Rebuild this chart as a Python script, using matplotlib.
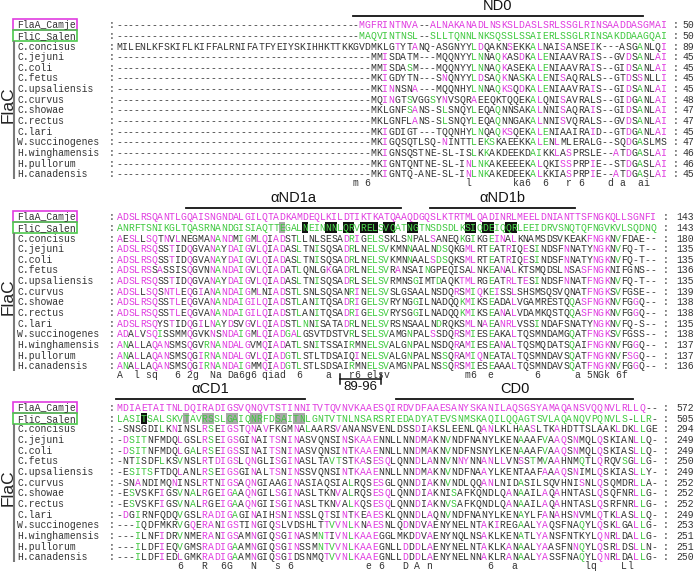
import matplotlib
matplotlib.use("Agg")
import matplotlib.pyplot as plt
from matplotlib.patches import Rectangle

# ---------------- data ----------------
names = ["FlaA_Camje", "FliC_Salen", "C.concisus", "C.jejuni", "C.coli", "C.fetus",
         "C.upsaliensis", "C.curvus", "C.showae", "C.rectus", "C.lari",
         "W.succinogenes", "H.winghamensis", "H.pullorum", "H.canadensis"]

block1_seqs = [
    "MGFRINTNVA--ALNAKANADLNSKSLDASLSRLSSGLRINSAADDASGMAI",
    "MAQVINTNSL--SLLTQNNLNKSQSSLSSAIERLSSGLRINSAKDDAAGQAI",
    "MILENLKFSKIFLKIFFALRNIFATFYEIYSKIHHKTTKKGVDMKLGTYTANQ-ASGNYYLDQAKNSEKKALNAISANSEIK---ASGANLQI",
    "MMISDATM---MQQNYYLNNAQKASDKALENIAAVRAIS--GVDSANLAI",
    "MMISDASM---MQQNYYLNNAQKASEKALENIAAVRAIS--GIDSANLAI",
    "MKIGDYTN---SNQNYYLDSAQKNASKALENISAQRALS--GTDSSNLLI",
    "MKINNSNA---MQQNHYLNNAQKSQDKALENIAAVRAIS--GIDSANLAI",
    "MQINGTSVGGSYNVSQRAEEQKTQQEKALQNISAVRALS--GIDGANLAI",
    "MKLGNFSANS-SLSNQYLEQAQNNSAKALNNISAQRAIS--GIDSANLAI",
    "MKLGNFLANS-SLSNQYLEQAQNNGAKALNNISVQRALS--GVDSANLAI",
    "MKIGDIGT---TQQNHYLNQAQKSQEKALENIAAIRAID--GTDGANLAI",
    "MKIGQSQTLSQ-NINTTLEKSKAEEKKALENLMLERALG--SQDGASLMS",
    "MKIGNSQSTNE-SL-ISLKKAKDEEKDAIKKLASPRSLE--ATDGASLAI",
    "MKIGNTQNTNE-SL-INLNKAKEEEEKALQKISSPRPIE--STDGASLAI",
    "MKIGNTQ-ANE-SL-INLNKAKEDEEKALKKIASPRPIE--ATDGASLAI",
]
block1_ends = [50, 50, 89, 45, 45, 45, 45, 48, 47, 47, 45, 47, 46, 46, 45]

block2_seqs = [
    "ADSLRSQANTLGQAISNGNDALGILQTADKAMDEQLKILDTIKTKATQAAQDGQSLKTRTMLQADINRLMEELDNIANTTSFNGKQLLSGNFI",
    "ANRFTSNIKGLTQASRNANDGISIAQTTEGALNEINNNLQRVRELSVQATNGTNSDSDLKSIQDEIQQRLEEIDRVSNQTQFNGVKVLSQDNQ",
    "AESLLSQTNVLNEGMANANDMIGMLQIADSTLLNLSESADRIGELSSKLSNPALSANEQKGIKGEINALKNAMSDSVKEAKFNGKNVFDAE--",
    "ADSLRSQSSTIDQGVANAYDAIGVLQIADASLTNISQSADRLNELSVKMNNAALNDSQKGMLRTEATRIQESINDSFNNATYNGKNVFQ-T--",
    "ADSLRSQSSTIDQGVANAYDAIGVLQIADASLTNISQSADRLNELSVKMNNAALSDSQKSMLRTEATRIQESINDSFNNATYNGKNVFQ-T--",
    "ADSLRSSASSISQGVNNANDAIGVLQIADATLQNLGKGADRLNELSVRANSAINGPEQISALNKEANALKTSMQDSLNSASFNGKNIFGNS--",
    "ADSLRSQSSTIDQGVANAYDAIGVLQIADASLTNISQSADRLSELSVRMNSGIMTDAQKTMLRGEATRLTESINDSFNNATFNGKNVFQ-T--",
    "ADSLLSQSNTLEQGIANANDAIGMLNIADSTLSNLSQSANRINELSVSLGSAALNSDQRSMIQKEISSLSHSMSQSVQNATFNGKSVFGSE--",
    "ADSLRSQSSTLEQGVANANDAIGILQIADSTLANITQSADRIGELSVRYNGGILNADQQKMIKSEADALVGAMRESTQQASFNGKNVFGGQ--",
    "ADSLRSQSSTLEQGVANANDAIGILQIADSTLANITQSADRIGELSVRYSGGILNADQQKMIKSEANALVDAMKQSTQQASFNGKNVFGGQ--",
    "ADSLRSQYSTIDQGILNAYDSVGVLQIADSTLNNISATADRLNELSVRSNSAALNDRQKSMLNAEANRLVSSINDAFSNATYNGKNVFQ-S--",
    "ADALVSQISSMMQGVKNSNDAIGMLQIADGALGSVTDSTVRLSELSVAMGNPALSSDQRSMIESEAKALTQSMNDAMGQATFNGKSVFGSS--",
    "ANALLAQANSMSQGVRNANDALGVMQIADATLSNITSSAIRMNELSVALGNPALNSDQRAMIESEANALTQSMQDATSQAIFNGKNVFGGQ--",
    "ANALLAQANSMSQGIRNANDALGVLQIADGTLSTLTDSAIQINELSVALGNPALNSSQRAMIQNEATALTQSMNDAVSQATFNGKNVFSGQ--",
    "ANALLAQANSMSQGIRNANDAIGMMQIADGTLSTLSDSAIRMNELSVAMGNPALNSSQRSMIESEAAALTQSMNDAVSQATFNGKNVFGGQ--",
]
block2_ends = [143, 143, 180, 135, 135, 136, 135, 139, 138, 138, 135, 138, 137, 137, 136]

block3_seqs = [
    "MDIAETAITNLDQIRADIGSVQNQVTSTINNITVTQVNVKAAESQIRDVDFAAESANYSKANILAQSGSYAMAQANSVQQNVLRLLQ--",
    "LASITSALSKVTAVRSSLGAIQNRFDSAITNLGNTVTNLNSARSRIEDADYATEVSNMSKAQILQQAGTSVLAQANQVPQNVLS-LLR-",
    "-SNSGDILKNINSLRSEIGSTQNAVFKGMNALAARSVANANSVENLDSSDIAKSLEENLQANLKLHAASLTKAHDTTSLAAKLDKLLGE",
    "-DSITNFMDQLGSLRSEIGSGINAITSNINASVQNSINSKAAENNLLNNDMAKNVNDFNANYLKENAAAFVAAQSNMQLQSKIANLLQ-",
    "-DSITNFMDQLGALRSEIGSSINAITSNINASVQNSINTKAAENNLLNNDMAKNVNDFNSNYLKENAAAFVAAQSNMQLQSKIASLLQ-",
    "-NTISDFLKSVNSLRTDIGSLQNGLISGINASLTAVTSTKASESQLQNNDLANNVNNYNNANLLVNSSTMVAAHNMQTLQRQVSGLLG-",
    "-ESITSFTDQLANLRSEIGSGINALTSNINSSVQNSINTKAAENNLLNNDMAKNVNDFNAAYLKENTAAFAAAQSNIMLQSKIASLLY-",
    "-SNANDIMQNINSLRTNIGSAQNGIAAGINASIAQSIALRQSESGLQNNDIAKNVNDLQQANLNIDASILSQVHNISNLQSQMDRLLA-",
    "-ESVSKFIGSVNALRGEIGAAQNGILSGINASLTKNVALRQSESQLQNNDIAKNISAFKQNDLQANAAILAQAHNTASLQSQFNRLLG-",
    "-ESVSKFIGSVNALRGEIGAAQNGIISGINASLTKNVALKQSESQLQNNDIAKNVSAFKQNDLQANAAILAQAHNTASLQSRFNRLLG-",
    "-DGIRNFQDQVGSLRADIGAGINAIHSNINSSLQTSINTKEAESKLQNNDLAQNVNDFNANYLKENAYLFANAHSNVMLQTKLASLLQ-",
    "---IQDFMKRVGQERANIGSTINGIQSLVDSHLTTVVNLKNAESNLQDNDVAENYNELNTAKIREGAALYAQSFNAQYLQSKLGALLG-",
    "---ILNFIDRVNMERANIGSAMNGIQSGINASMNTIVNLKAAEGGLMKDDVAENYNQLNSAKLKENATLYANSFNTKYLQNRLDALLG-",
    "---ILDFIEQVGMSRADIGAAMNGIQSGINSSMNTVVNLKAAEGNLLDDDLAENYNELNTAKLKANAALYAASFNNQYLQSRLDSLLN-",
    "---ILDFIEDLGMKRADIGAAMNGIQSGIDSNMQTVVNLKAAEGNLLDDDLAENYNELNNAKLRANAALYASSFNAQYLQNRLDALLG-",
]
block3_ends = [572, 505, 294, 249, 249, 250, 249, 252, 252, 252, 249, 253, 251, 251, 250]

# consensus rows: (column, symbol), columns 1-based
cons1 = [(41, "m"), (43, "6"), (60, "l"), (68, "k"), (69, "a"), (70, "6"), (73, "6"),
         (77, "r"), (79, "6"), (84, "d"), (86, "a"), (89, "a"), (90, "i")]
cons2 = [(1, "A"), (4, "l"), (6, "s"), (7, "q"), (11, "6"), (13, "2"), (14, "g"),
         (17, "N"), (18, "a"), (20, "D"), (21, "a"), (22, "6"), (23, "g"), (24, "6"),
         (26, "q"), (27, "i"), (28, "a"), (29, "d"), (32, "6"), (37, "a"),
         (41, "r"), (42, "6"), (44, "e"), (45, "l"), (46, "s"), (47, "v"),
         (61, "m"), (62, "6"), (65, "e"), (73, "6"), (80, "a"), (82, "5"), (83, "N"),
         (84, "G"), (85, "k"), (87, "6"), (88, "f")]
cons3 = [(11, "6"), (15, "R"), (18, "6"), (19, "G"), (23, "N"), (27, "s"), (29, "6"),
         (42, "e"), (44, "6"), (48, "D"), (50, "A"), (52, "n"), (62, "6"), (66, "a"),
         (78, "l"), (79, "q"), (84, "L"), (85, "l")]

# highlighted residues of FliC (1-based columns)
hl2_black = [33, 37, 38, 40, 41, 43, 44, 45, 47, 48, 51, 52, 61, 62, 64, 65, 68, 69]
hl2_grey = [29]
hl3_black = [5]
hl3_grey = [12, 15, 16, 19, 20, 23, 24, 27, 28, 30, 31]

# domain annotations: (block, label, first col, last col)
domains = [(0, "ND0", 41, 89), (1, "\u03b1ND1a", 13, 49), (1, "\u03b1ND1b", 55, 79),
           (2, "\u03b1CD1", 1, 31), (2, "CD0", 47, 85)]

# ---------------- drawing ----------------
MAG = "#e03ce0"
GRN = "#3ec83e"
DARK = "#333333"
MONO = "Liberation Mono"
SANS = "Liberation Sans"
FS = 7.0

fig = plt.figure(figsize=(6.96, 5.72), dpi=100)
ax = fig.add_axes([0, 0, 1, 1])
ax.set_xlim(0, 696)
ax.set_ylim(572, 0)
ax.axis("off")

blocks = [
    dict(seqs=[s.rjust(93, "-") for s in block1_seqs], ends=block1_ends, cons=cons1,
         y0=25.0, x0=119.0, pitch=5.92, colon=676.0, black=[], grey=[]),
    dict(seqs=block2_seqs, ends=block2_ends, cons=cons2,
         y0=217.0, x0=119.5, pitch=5.80, colon=666.0, black=hl2_black, grey=hl2_grey),
    dict(seqs=block3_seqs, ends=block3_ends, cons=cons3,
         y0=408.0, x0=119.5, pitch=6.08, colon=666.0, black=hl3_black, grey=hl3_grey),
]
DY = 10.65
BASE = 3.2

def put(x, y, s, color=DARK, ha="center", **kw):
    ax.text(x, y + BASE, s, color=color, ha=ha, va="baseline",
            fontfamily=MONO, fontsize=FS, **kw)

for bi, b in enumerate(blocks):
    y0, x0, p = b["y0"], b["x0"], b["pitch"]
    seqs = b["seqs"]
    flaa, flic = seqs[0], seqs[1]
    for r, (nm, s, e) in enumerate(zip(names, seqs, b["ends"])):
        y = y0 + r * DY
        put(17, y, nm, ha="left")
        put(112, y, ":")
        put(b["colon"], y, ":")
        put(694, y, str(e), ha="right")
        for i, ch in enumerate(s):
            x = x0 + i * p
            col = i + 1
            if ch == "-":
                c = DARK
            elif r == 0:
                c = MAG
            elif r == 1:
                c = GRN
                if col in b["black"] or col in b["grey"]:
                    fc = "#111111" if col in b["black"] else "#a9a9a9"
                    ax.add_patch(Rectangle((x - p / 2, y - DY / 2), p, DY,
                                           facecolor=fc, edgecolor="none", zorder=1))
                    if col in b["black"]:
                        c = "#4fe04f"
            elif i < len(flaa) and ch == flaa[i]:
                c = MAG
            elif i < len(flic) and ch == flic[i]:
                c = GRN
            else:
                c = DARK
            put(x, y, ch, color=c, zorder=2)
    # consensus
    yc = y0 + 15 * DY - 1.5
    for col, ch in b["cons"]:
        put(x0 + (col - 1) * p, yc, ch)
    # name boxes
    ax.add_patch(Rectangle((13, y0 - 5.6), 64, 11.0, fill=False, edgecolor=MAG, lw=1.2))
    ax.add_patch(Rectangle((13, y0 + DY - 5.4), 64, 11.0, fill=False, edgecolor="#4cc84c", lw=1.2))
    # FlaC bracket line and label
    ax.plot([14, 14], [y0 + 2 * DY - 5, y0 + 14 * DY + 5], color="#7a7a7a", lw=1.5,
            solid_capstyle="butt")
    ax.text(8, y0 + 7.5 * DY, "FlaC", rotation=90, ha="center", va="center",
            fontfamily=SANS, fontsize=12.5, color="#222222")

# domain titles and bars
for bi, lab, c1, c2 in domains:
    b = blocks[bi]
    xa = b["x0"] + (c1 - 1) * b["pitch"] - b["pitch"] / 2
    xb = b["x0"] + (c2 - 1) * b["pitch"] + b["pitch"] / 2
    ybar = b["y0"] - 9.5
    ax.plot([xa, xb], [ybar, ybar], color="#111111", lw=1.3)
    ax.text((xa + xb) / 2, ybar - 2.5, lab, ha="center", va="bottom",
            fontfamily=SANS, fontsize=10.5, color="#111111")

# 89-96 bracket
b = blocks[1]
xa = b["x0"] + (39 - 1) * b["pitch"]
xb = b["x0"] + (46 - 1) * b["pitch"]
yb = b["y0"] + 15 * DY + 2.5
ax.plot([xa, xb], [yb, yb], color="#111111", lw=1.1)
ax.plot([xa, xa], [yb - 5, yb + 5], color="#111111", lw=1.1)
ax.plot([xb, xb], [yb - 5, yb + 5], color="#111111", lw=1.1)
ax.text((xa + xb) / 2, yb + 1.5, "89-96", ha="center", va="top",
        fontfamily=SANS, fontsize=9.5, color="#111111")

fig.savefig("out.png", dpi=100)
